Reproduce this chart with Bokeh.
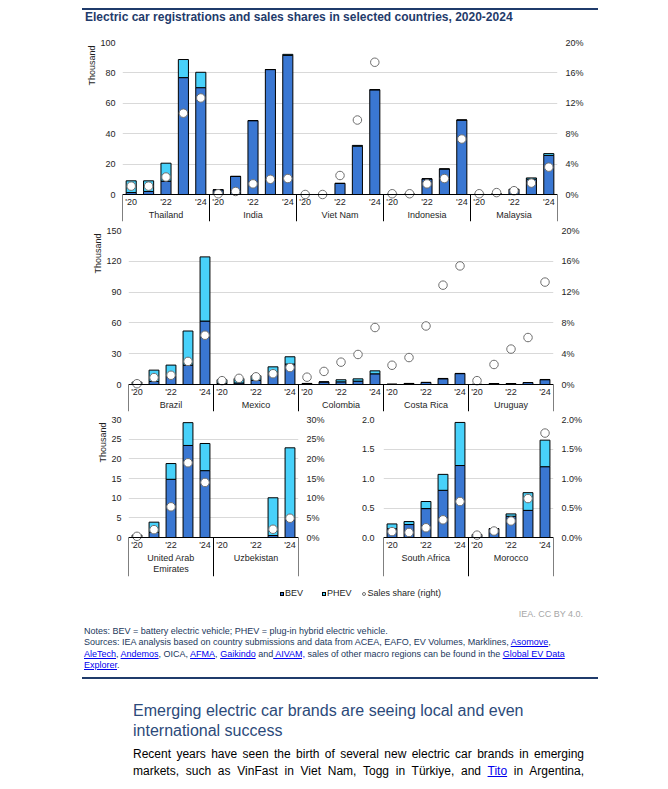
import math
from bokeh.plotting import figure
from bokeh.models import (Range1d, LinearAxis, FixedTicker, PrintfTickFormatter,
                          ColumnDataSource, Span, Div, Title)
from bokeh.layouts import column, row
from bokeh.embed import file_html
from bokeh.resources import INLINE
from bokeh.core.properties import value

# ---------------- data (thousand vehicles, sales share in %) ----------------
YEARS = [2020, 2021, 2022, 2023, 2024]
YEAR_TICK_LABELS = ["'20", "", "'22", "", "'24"]

ROW1_COUNTRIES = ["Thailand", "India", "Viet Nam", "Indonesia", "Malaysia"]
ROW1_BEV = [
    [1.3, 2.0, 8.8, 76.9, 70.3],
    [3.1, 11.9, 48.6, 82.2, 91.5],
    [0.0, 0.0, 7.3, 31.8, 68.9],
    [0.1, 0.2, 10.3, 16.8, 49.0],
    [0.1, 0.3, 3.2, 10.1, 25.7],
]
ROW1_PHEV = [
    [7.7, 7.0, 11.8, 11.9, 10.1],
    [0.0, 0.0, 0.0, 0.0, 0.7],
    [0.0, 0.0, 0.0, 0.5, 0.0],
    [0.0, 0.0, 0.0, 0.0, 0.0],
    [0.0, 0.0, 0.3, 0.8, 1.2],
]
ROW1_SHARE = [
    [1.1, 1.1, 2.3, 10.7, 12.7],
    [0.1, 0.4, 1.4, 2.0, 2.1],
    [0.0, 0.0, 2.5, 9.8, 17.4],
    [0.1, 0.1, 1.4, 2.1, 7.3],
    [0.1, 0.25, 0.5, 1.5, 3.6],
]

ROW2_COUNTRIES = ["Brazil", "Mexico", "Colombia", "Costa Rica", "Uruguay"]
ROW2_BEV = [
    [0.8, 2.9, 8.5, 18.9, 61.8],
    [1.0, 1.5, 4.0, 11.0, 19.9],
    [1.0, 2.5, 2.6, 3.3, 10.4],
    [0.2, 1.0, 2.0, 5.6, 10.6],
    [0.1, 0.9, 0.9, 1.9, 4.7],
]
ROW2_PHEV = [
    [1.5, 11.1, 10.4, 33.2, 62.5],
    [3.6, 4.3, 4.5, 6.2, 7.1],
    [0.0, 0.0, 2.0, 2.2, 2.9],
    [0.0, 0.0, 0.0, 0.3, 0.2],
    [0.0, 0.0, 0.0, 0.0, 0.2],
]
ROW2_SHARE = [
    [0.1, 0.9, 1.2, 3.0, 6.4],
    [0.5, 0.8, 1.0, 1.4, 2.2],
    [0.95, 1.7, 2.9, 3.9, 7.4],
    [2.5, 3.5, 7.6, 12.9, 15.4],
    [0.5, 2.6, 4.6, 6.1, 13.3],
]

ROW3A_COUNTRIES = ["United Arab\nEmirates", "Uzbekistan"]
ROW3A_BEV = [
    [0.4, 1.3, 14.8, 23.4, 17.0],
    [None, None, None, 0.5, 5.0],
]
ROW3A_PHEV = [
    [0.2, 2.6, 4.0, 5.8, 6.9],
    [None, None, None, 9.6, 17.8],
]
ROW3A_SHARE = [
    [0.3, 2.0, 7.8, 19.0, 14.0],
    [None, None, None, 2.1, 4.9],
]

ROW3B_COUNTRIES = ["South Africa", "Morocco"]
ROW3B_BEV = [
    [0.15, 0.22, 0.49, 0.80, 1.22],
    [0.05, 0.15, 0.36, 0.46, 1.20],
]
ROW3B_PHEV = [
    [0.08, 0.05, 0.12, 0.27, 0.73],
    [0.0, 0.0, 0.04, 0.30, 0.45],
]
ROW3B_SHARE = [
    [0.10, 0.085, 0.165, 0.30, 0.61],
    [0.04, 0.11, 0.28, 0.66, 1.77],
]

# ---------------- styles ----------------
FONT = "Liberation Sans"
BEV_COLOR = "#3a77d2"
PHEV_COLOR = "#48d1fa"
GRID_COLOR = "#d9d9d9"
TEXT_COLOR = "#1e1e1e"
NAVY = "#1f3b6b"
NAN = float("nan")


def make_panel(countries, bev, phev, share, *, width, min_left, min_right,
               fig_top, top_px, zero_px, bottom_px, ymax, left_ticks,
               share_max, share_ticks, left_fmt, right_fmt, ylabel,
               left_standoff=7, right_standoff=8):
    n_years = len(YEARS)
    n = len(countries)
    xs, b_vals, t_vals, s_vals = [], [], [], []
    for gi in range(n):
        for yi in range(n_years):
            xs.append(gi * n_years + yi)
            bv, ph, sh = bev[gi][yi], phev[gi][yi], share[gi][yi]
            b_vals.append(NAN if bv is None else bv)
            t_vals.append(NAN if bv is None else bv + ph)
            s_vals.append(NAN if sh is None else sh)
    src = ColumnDataSource(dict(x=xs, bev=b_vals, total=t_vals, share=s_vals))

    height = bottom_px - fig_top + 1
    ppu = (zero_px - top_px) / ymax
    y_start = -(bottom_px - zero_px) / ppu

    p = figure(width=width, height=height,
               x_range=Range1d(-0.5, n * n_years - 0.5),
               y_range=Range1d(y_start, ymax),
               x_axis_location=None, y_axis_location="left",
               output_backend="svg", toolbar_location=None,
               min_border_left=min_left, min_border_right=min_right,
               min_border_top=top_px - fig_top, min_border_bottom=1,
               frame_align=False)
    p.outline_line_color = None
    p.background_fill_color = "white"
    p.border_fill_color = "white"
    p.xgrid.visible = False
    p.ygrid.ticker = FixedTicker(ticks=left_ticks)
    p.ygrid.grid_line_color = GRID_COLOR
    p.ygrid.grid_line_width = 1

    ax = p.yaxis[0]
    ax.ticker = FixedTicker(ticks=left_ticks)
    ax.formatter = PrintfTickFormatter(format=left_fmt)
    ax.axis_line_color = None
    ax.major_tick_line_color = None
    ax.minor_tick_line_color = None
    ax.major_tick_out = 0
    ax.major_tick_in = 0
    ax.major_label_standoff = left_standoff
    ax.major_label_text_font = FONT
    ax.major_label_text_font_size = "9px"
    ax.major_label_text_color = TEXT_COLOR
    if ylabel:
        p.add_layout(Title(text=ylabel, align="right", text_font=FONT,
                           text_font_size="9px", text_font_style="normal",
                           text_color=TEXT_COLOR, standoff=1, offset=3), "left")

    p.extra_y_ranges = {"share": Range1d(y_start * share_max / ymax, share_max)}
    rax = LinearAxis(y_range_name="share", ticker=FixedTicker(ticks=share_ticks),
                     formatter=PrintfTickFormatter(format=right_fmt))
    rax.axis_line_color = None
    rax.major_tick_line_color = None
    rax.minor_tick_line_color = None
    rax.major_tick_out = 0
    rax.major_tick_in = 0
    rax.major_label_standoff = right_standoff
    rax.major_label_text_font = FONT
    rax.major_label_text_font_size = "9px"
    rax.major_label_text_color = TEXT_COLOR
    p.add_layout(rax, "right")

    bw = 0.58
    p.vbar(x="x", width=bw, bottom=0, top="bev", source=src,
           fill_color=BEV_COLOR, line_color="black", line_width=1)
    p.vbar(x="x", width=bw, bottom="bev", top="total", source=src,
           fill_color=PHEV_COLOR, line_color="black", line_width=1)
    p.scatter(x="x", y="share", y_range_name="share", source=src, marker="circle",
              size=8.5, fill_color="white", line_color="#6f6f6f", line_width=1)

    p.add_layout(Span(location=0, dimension="width", line_color="black", line_width=1))

    # group separators below the zero line
    bounds = [gi * n_years - 0.5 for gi in range(n + 1)]
    p.segment(x0=bounds, y0=[0] * len(bounds), x1=bounds, y1=[y_start] * len(bounds),
              line_color="black", line_width=1)

    # year labels
    yx, yt = [], []
    for gi in range(n):
        for yi, lab in enumerate(YEAR_TICK_LABELS):
            if lab:
                yx.append(gi * n_years + yi)
                yt.append(lab)
    p.text(x=yx, y=[-7.5 / ppu] * len(yx), text=yt, text_font=value(FONT),
           text_font_size="9px", text_color=TEXT_COLOR, text_align="center",
           text_baseline="middle")
    # group labels
    cx = [gi * n_years + (n_years - 1) / 2 for gi in range(n)]
    p.text(x=cx, y=[-15 / ppu] * n, text=countries, text_font=value(FONT),
           text_font_size="9px", text_color=TEXT_COLOR, text_align="center",
           text_baseline="top", text_line_height=1.15)
    return p


p1 = make_panel(ROW1_COUNTRIES, ROW1_BEV, ROW1_PHEV, ROW1_SHARE,
                width=599, min_left=114, min_right=50,
                fig_top=30, top_px=42, zero_px=194, bottom_px=221, ymax=100,
                left_ticks=[0, 20, 40, 60, 80, 100], share_max=20,
                share_ticks=[0, 4, 8, 12, 16, 20], left_fmt="%d", right_fmt="%d%%",
                ylabel="Thousand")
p2 = make_panel(ROW2_COUNTRIES, ROW2_BEV, ROW2_PHEV, ROW2_SHARE,
                width=599, min_left=120, min_right=54,
                fig_top=222, top_px=230, zero_px=384, bottom_px=411, ymax=150,
                left_ticks=[0, 30, 60, 90, 120, 150], share_max=20,
                share_ticks=[0, 4, 8, 12, 16, 20], left_fmt="%d", right_fmt="%d%%",
                ylabel="Thousand")
p3a = make_panel(ROW3A_COUNTRIES, ROW3A_BEV, ROW3A_PHEV, ROW3A_SHARE,
                 width=332, min_left=120, min_right=42,
                 fig_top=412, top_px=419, zero_px=537, bottom_px=576, ymax=30,
                 left_ticks=[0, 5, 10, 15, 20, 25, 30], share_max=30,
                 share_ticks=[0, 5, 10, 15, 20, 25, 30], left_fmt="%d", right_fmt="%d%%",
                 ylabel="Thousand")
p3b = make_panel(ROW3B_COUNTRIES, ROW3B_BEV, ROW3B_PHEV, ROW3B_SHARE,
                 width=260, min_left=43, min_right=47,
                 fig_top=412, top_px=419, zero_px=537, bottom_px=576, ymax=2.0,
                 left_ticks=[0, 0.5, 1.0, 1.5, 2.0], share_max=2.0,
                 share_ticks=[0, 0.5, 1.0, 1.5, 2.0], left_fmt="%.1f", right_fmt="%.1f%%",
                 ylabel=None, left_standoff=9)

FF = "font-family:'Liberation Sans',Arial,sans-serif;"
TITLE = "Electric car registrations and sales shares in selected countries, 2020-2024"
header = Div(width=652, height=22, margin=(0, 0, 0, 0), text=f"""
<div style="position:relative;width:652px;height:22px;{FF}">
 <div style="position:absolute;left:74px;top:0px;width:516px;height:2px;background:{NAVY};"></div>
 <div style="position:absolute;left:77px;top:2px;font-size:12px;line-height:14px;font-weight:bold;color:{NAVY};white-space:nowrap;">{TITLE}</div>
</div>""")

SQ = "display:inline-block;width:4px;height:4px;border:1px solid #000;vertical-align:middle;margin-right:1px;"
CI = "display:inline-block;width:4px;height:4px;border:1px solid #6f6f6f;border-radius:50%;background:#fff;vertical-align:middle;margin-right:2px;"
A = "color:#0000ee;text-decoration:underline;"
NOTE_COLOR = "#22385c"
bottom = Div(width=652, height=204, margin=(0, 0, 0, 0), text=f"""
<div style="position:relative;width:652px;height:204px;overflow:hidden;{FF}">
 <div style="position:absolute;left:272px;top:10px;font-size:9px;line-height:12px;color:{TEXT_COLOR};white-space:nowrap;"><span style="{SQ}background:{BEV_COLOR};"></span>BEV<span style="{SQ}background:{PHEV_COLOR};margin-left:19px;"></span>PHEV<span style="{CI}margin-left:10px;"></span>Sales share (right)</div>
 <div style="position:absolute;right:77px;top:31px;font-size:9px;line-height:12px;color:#a6a6a6;white-space:nowrap;">IEA. CC BY 4.0.</div>
 <div style="position:absolute;left:76px;top:49px;font-size:9px;line-height:11.3px;color:{NOTE_COLOR};white-space:nowrap;">
Notes: BEV = battery electric vehicle; PHEV = plug-in hybrid electric vehicle.<br>
Sources: IEA analysis based on country submissions and data from ACEA, EAFO, EV Volumes, Marklines, <span style="{A}">Asomove</span>,<br>
<span style="{A}">AleTech</span>, <span style="{A}">Andemos</span>, OICA, <span style="{A}">AFMA</span>, <span style="{A}">Gaikindo</span> and<span style="{A}"> AIVAM,</span> sales of other macro regions can be found in the <span style="{A}">Global EV Data</span><br>
<span style="{A}">Explorer</span>.
 </div>
 <div style="position:absolute;left:74px;top:100px;width:516px;height:2px;background:{NAVY};"></div>
 <div style="position:absolute;left:125px;top:124px;font-size:16px;line-height:20px;color:#2c4a7a;white-space:nowrap;">Emerging electric car brands are seeing local and even<br>international success</div>
 <div style="position:absolute;left:125px;top:169px;width:451px;font-size:12px;line-height:17px;color:#000;">
  <div style="text-align:justify;text-align-last:justify;">Recent years have seen the birth of several new electric car brands in emerging</div>
  <div style="text-align:justify;text-align-last:justify;">markets, such as VinFast in Viet Nam, Togg in Türkiye, and <span style="{A}">Tito</span> in Argentina,</div>
 </div>
</div>""")

layout = column(header, p1, p2, row(p3a, p3b, spacing=0), bottom, spacing=0,
                margin=(8, 0, 0, 8))

with open("out.html", "w") as f:
    f.write(file_html(layout, INLINE))
